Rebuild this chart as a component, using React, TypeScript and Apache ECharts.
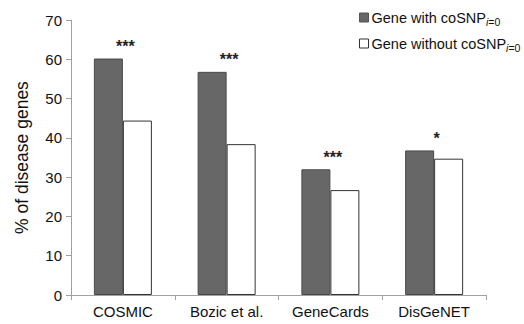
import React, { useEffect, useRef } from "react";
import * as echarts from "echarts";

const categories = ["COSMIC", "Bozic et al.", "GeneCards", "DisGeNET"];
const withCoSNP = [60.2, 56.8, 32.0, 36.8];
const withoutCoSNP = [44.4, 38.4, 26.7, 34.7];
const significance = ["***", "***", "***", "*"];
const yTicks = [0, 10, 20, 30, 40, 50, 60, 70];

export default function App() {
  const ref = useRef<HTMLDivElement>(null);
  useEffect(() => {
    const chart = echarts.init(ref.current!, null, { renderer: "svg" });
    const font = "Liberation Sans, Arial, sans-serif";
    chart.setOption({
      animation: false,
      backgroundColor: "#ffffff",
      textStyle: { fontFamily: font },
      grid: { left: 71, right: 38, top: 20, bottom: 29, containLabel: false },
      legend: {
        orient: "vertical",
        left: 354,
        top: 5,
        itemGap: 9,
        itemWidth: 9,
        itemHeight: 9,
        icon: "rect",
        data: [
          { name: "with", itemStyle: { color: "#676767", borderColor: "#555", borderWidth: 1 } },
          { name: "without", itemStyle: { color: "#ffffff", borderColor: "#333", borderWidth: 1 } },
        ],
        formatter: (n: string) =>
          n === "with"
            ? "{a|Gene with coSNP}{i|i}{s|=0}"
            : "{a|Gene without coSNP}{i|i}{s|=0}",
        textStyle: {
          padding: [0, 0, 0, -2],
          rich: {
            a: { fontSize: 14.5, color: "#111", fontFamily: font, height: 18 },
            i: { fontSize: 10.5, color: "#111", fontStyle: "italic", fontFamily: font, padding: [8, 0, 0, 0] },
            s: { fontSize: 10.5, color: "#111", fontFamily: font, padding: [8, 0, 0, 0] },
          },
        },
      },
      xAxis: {
        type: "category",
        data: categories,
        axisLine: { lineStyle: { color: "#a0a0a0", width: 1 } },
        axisTick: { show: true, length: 5, lineStyle: { color: "#a0a0a0" } },
        axisLabel: { fontSize: 15, color: "#111", margin: 9, fontFamily: font },
      },
      yAxis: {
        type: "value",
        min: 0,
        max: 70,
        interval: 10,
        name: "% of disease genes",
        nameLocation: "middle",
        nameGap: 40,
        nameTextStyle: { fontSize: 17.5, color: "#111", fontFamily: font },
        axisLine: { show: true, lineStyle: { color: "#a0a0a0", width: 1 } },
        axisTick: { show: true, length: 5, lineStyle: { color: "#a0a0a0" } },
        axisLabel: {
          fontSize: 15,
          color: "#111",
          margin: 9,
          fontFamily: font,
          formatter: (v: number) => (yTicks.includes(v) ? String(v) : ""),
        },
        splitLine: { show: false },
      },
      series: [
        {
          name: "with",
          type: "bar",
          data: withCoSNP,
          barWidth: 29,
          barGap: "0%",
          itemStyle: { color: "#676767", borderColor: "#4a4a4a", borderWidth: 1 },
          label: {
            show: true,
            position: "top",
            offset: [17, 1],
            fontSize: 16,
            fontWeight: "bold",
            color: "#222",
            formatter: (p: any) => significance[p.dataIndex],
          },
        },
        {
          name: "without",
          type: "bar",
          data: withoutCoSNP,
          barWidth: 29,
          barGap: "0%",
          itemStyle: { color: "#ffffff", borderColor: "#333333", borderWidth: 1 },
        },
      ],
    });
    return () => chart.dispose();
  }, []);
  return (
    <div
      ref={ref}
      style={{ position: "fixed", left: 0, top: 0, width: 524, height: 324, background: "#fff" }}
    />
  );
}
